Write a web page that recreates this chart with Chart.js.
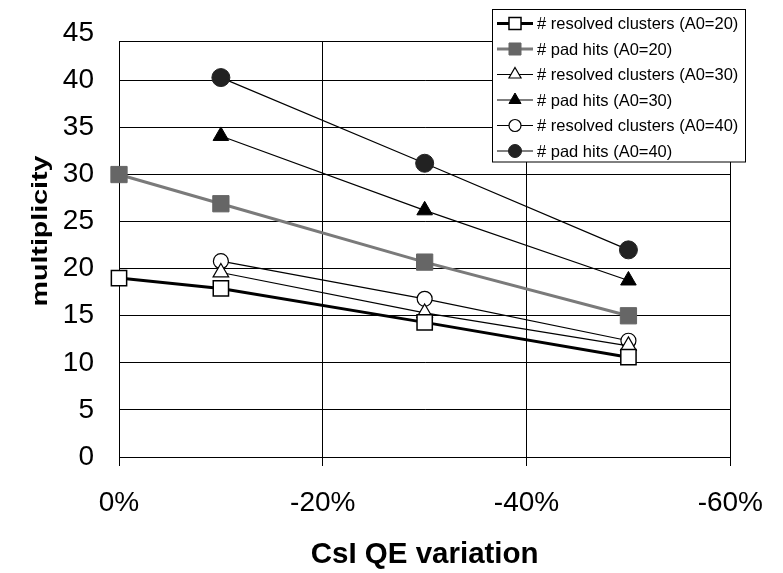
<!DOCTYPE html>
<html>
<head>
<meta charset="utf-8">
<script src="https://cdn.jsdelivr.net/npm/chart.js@4.4.1/dist/chart.umd.min.js"></script>
<style>
  body { margin: 0; background: #fff; }
  canvas { display: block; }
</style>
</head>
<body>
<canvas id="chart" width="783" height="573"></canvas>
<script>
// data
const qeVariation = [0, -10, -30, -50];
const resolvedA020 = [19.0, 17.9, 14.3, 10.6];
const padHitsA020 = [30.0, 26.9, 20.7, 15.0];
const resolvedA030 = [null, 19.6, 15.3, 11.8];
const padHitsA030 = [null, 34.1, 26.2, 18.75];
const resolvedA040 = [null, 20.8, 16.8, 12.35];
const padHitsA040 = [null, 40.3, 31.2, 22.0];

const seriesLabels = [
    '# resolved clusters (A0=20)',
    '# pad hits (A0=20)',
    '# resolved clusters (A0=30)',
    '# pad hits (A0=30)',
    '# resolved clusters (A0=40)',
    '# pad hits (A0=40)'
];
const xTicks = [0, -20, -40, -60];
const yTicks = [0, 5, 10, 15, 20, 25, 30, 35, 40, 45];

const FONT = "'Liberation Sans', Arial, sans-serif";

function points(values) {
    return qeVariation.map((x, i) => ({ x: x, y: values[i] }));
}

function series(label, values, style) {
    return Object.assign({
        label: label,
        data: points(values),
        tension: 0,
        clip: false,
        pointHoverRadius: 0
    }, style);
}

const datasets = [
    series(seriesLabels[0], resolvedA020, {
        borderColor: '#000', borderWidth: 3,
        pointStyle: 'rect', pointRadius: 10.8,
        pointBackgroundColor: '#fff', pointBorderColor: '#000', pointBorderWidth: 1.5,
        legendRadius: 8.5
    }),
    series(seriesLabels[1], padHitsA020, {
        borderColor: '#7a7a7a', borderWidth: 3,
        pointStyle: 'rect', pointRadius: 11.5,
        pointBackgroundColor: '#666', pointBorderColor: '#666', pointBorderWidth: 1,
        legendRadius: 8.5
    }),
    series(seriesLabels[2], resolvedA030, {
        borderColor: '#000', borderWidth: 1.2,
        pointStyle: 'triangle', pointRadius: 9,
        pointBackgroundColor: '#fff', pointBorderColor: '#000', pointBorderWidth: 1.2,
        legendRadius: 7
    }),
    series(seriesLabels[3], padHitsA030, {
        borderColor: '#000', borderWidth: 1.2,
        pointStyle: 'triangle', pointRadius: 9,
        pointBackgroundColor: '#000', pointBorderColor: '#000', pointBorderWidth: 1,
        legendRadius: 7
    }),
    series(seriesLabels[4], resolvedA040, {
        borderColor: '#000', borderWidth: 1.2,
        pointStyle: 'circle', pointRadius: 7.5,
        pointBackgroundColor: '#fff', pointBorderColor: '#000', pointBorderWidth: 1.2,
        legendRadius: 6
    }),
    series(seriesLabels[5], padHitsA040, {
        borderColor: '#000', borderWidth: 1.2,
        pointStyle: 'circle', pointRadius: 9,
        pointBackgroundColor: '#222', pointBorderColor: '#222', pointBorderWidth: 1,
        legendRadius: 6.5
    })
];

function drawMarker(ctx, style, x, y, r, fill, stroke, bw) {
    ctx.beginPath();
    if (style === 'rect') {
        const s = r * Math.SQRT1_2;
        ctx.rect(x - s, y - s, 2 * s, 2 * s);
    } else if (style === 'triangle') {
        ctx.moveTo(x, y - r);
        ctx.lineTo(x + r * Math.sin(2 * Math.PI / 3), y - r * Math.cos(2 * Math.PI / 3));
        ctx.lineTo(x + r * Math.sin(4 * Math.PI / 3), y - r * Math.cos(4 * Math.PI / 3));
        ctx.closePath();
    } else {
        ctx.arc(x, y, r, 0, Math.PI * 2);
    }
    ctx.fillStyle = fill;
    ctx.fill();
    ctx.lineWidth = bw;
    ctx.strokeStyle = stroke;
    ctx.stroke();
}

// boxed legend in the upper right corner, line + marker like the original
const boxLegend = {
    id: 'boxLegend',
    afterDraw(chart) {
        const ctx = chart.ctx;
        const left = 492, top = 9.5, right = 745, bottom = 162;
        ctx.save();
        ctx.fillStyle = '#fff';
        ctx.fillRect(left, top, right - left, bottom - top);
        ctx.strokeStyle = '#000';
        ctx.lineWidth = 1;
        ctx.strokeRect(left + 0.5, top, right - left, bottom - top);
        ctx.font = '16.5px ' + FONT;
        ctx.textBaseline = 'middle';
        ctx.textAlign = 'left';
        chart.data.datasets.forEach((ds, i) => {
            const y = 23.5 + i * 25.5;
            ctx.beginPath();
            ctx.moveTo(497, y);
            ctx.lineTo(533, y);
            ctx.strokeStyle = ds.borderColor;
            ctx.lineWidth = ds.borderWidth;
            ctx.stroke();
            drawMarker(ctx, ds.pointStyle, 515, y, ds.legendRadius,
                ds.pointBackgroundColor, ds.pointBorderColor, ds.pointBorderWidth);
            ctx.fillStyle = '#000';
            ctx.fillText(ds.label, 537, y + 1);
        });
        ctx.restore();
    }
};

// the vertical title is drawn stretched along its length, as in the original
const yTitle = {
    id: 'yTitle',
    afterDraw(chart) {
        const ctx = chart.ctx;
        ctx.save();
        ctx.translate(41, 231);
        ctx.rotate(-Math.PI / 2);
        ctx.scale(1.3, 1);
        ctx.font = 'bold 22px ' + FONT;
        ctx.fillStyle = '#000';
        ctx.textAlign = 'center';
        ctx.textBaseline = 'middle';
        ctx.fillText('multiplicity', 0, 0);
        ctx.restore();
    }
};

const ctx = document.getElementById('chart').getContext('2d');
const chart = new Chart(ctx, {
    type: 'line',
    data: { datasets: datasets },
    plugins: [boxLegend, yTitle],
    options: {
        responsive: false,
        animation: false,
        events: [],
        layout: { padding: { top: 21, right: 37, left: 0, bottom: 0 } },
        plugins: {
            legend: { display: false },
            tooltip: { enabled: false }
        },
        scales: {
            x: {
                type: 'linear',
                position: 'bottom',
                min: -60,
                max: 0,
                reverse: true,
                afterBuildTicks: (scale) => { scale.ticks = xTicks.map(v => ({ value: v })); },
                afterFit: (scale) => { scale.height = 116; },
                ticks: {
                    autoSkip: false,
                    maxRotation: 0,
                    padding: 20,
                    color: '#000',
                    font: { family: FONT, size: 28 },
                    callback: (v) => v + '%'
                },
                grid: { color: '#000', lineWidth: 1, tickLength: 9, drawTicks: true },
                border: { display: true, color: '#000', width: 1 },
                title: {
                    display: true,
                    text: 'CsI QE variation',
                    color: '#000',
                    padding: 0,
                    font: { family: FONT, size: 29.5, weight: 'bold' }
                }
            },
            xTop: {
                type: 'linear',
                position: 'top',
                min: -60,
                max: 0,
                reverse: true,
                afterFit: (scale) => { scale.height = 0; },
                ticks: { display: false },
                grid: { display: false },
                border: { display: true, color: '#000', width: 1 }
            },
            y: {
                type: 'linear',
                min: 0,
                max: 44.1,
                afterBuildTicks: (scale) => { scale.ticks = yTicks.map(v => ({ value: v })); },
                afterFit: (scale) => { scale.width = 119; },
                ticks: {
                    autoSkip: false,
                    padding: 25,
                    color: '#000',
                    font: { family: FONT, size: 28 }
                },
                grid: {
                    drawTicks: false,
                    lineWidth: 1,
                    color: (c) => (c.tick && c.tick.value > 44.1) ? 'rgba(0,0,0,0)' : '#000'
                },
                border: { display: true, color: '#000', width: 1 }
            }
        }
    }
});
</script>
</body>
</html>
